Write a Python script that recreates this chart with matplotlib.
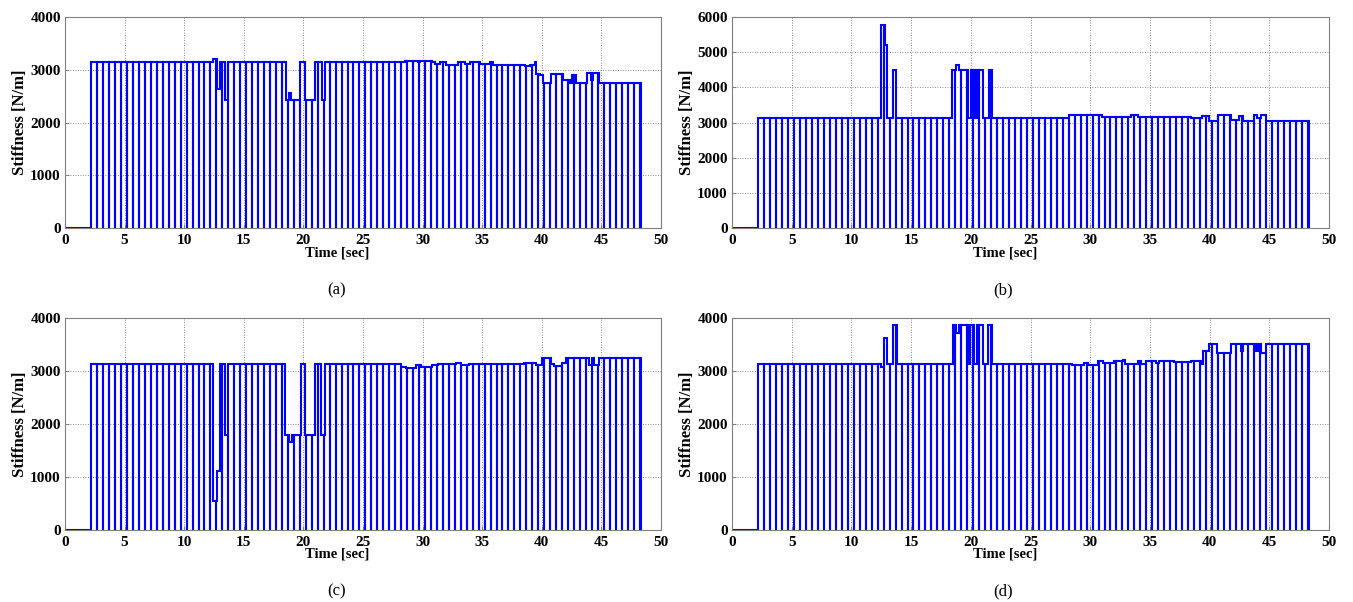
import numpy as np
import matplotlib
matplotlib.use("Agg")
import matplotlib.pyplot as plt

# ---------------- data ----------------
# Sampling instants where the stiffness signal is reset to zero (s)
pulse_start = 2.2
pulse_period = 0.5
pulse_last = 48.2
t_end = 48.3

# Stiffness level changes: (time [s], stiffness [N/m])
a_times = [2.2, 12.4, 12.75, 12.97, 13.4, 13.65, 18.5, 18.75, 19.0, 19.75, 20.1, 20.95,
           21.6, 21.82, 28.5, 29.62, 29.81, 30.82, 31.0, 31.43, 32.0, 33.0, 33.53, 33.95,
           34.23, 34.79, 35.62, 35.9, 38.56, 38.98, 39.4, 39.54, 39.82, 40.1, 40.79, 41.8, 42.33,
           42.55, 42.83, 43.81, 44.09, 44.29, 44.79]
a_vals = [3140, 3195, 2630, 3140, 2420, 3140, 2420, 2560, 2420, 3140, 2420, 3140,
          2420, 3140, 3165, 3140, 3165, 3140, 3100, 3140, 3090, 3140, 3115, 3140,
          3140, 3100, 3140, 3090, 3075, 3090, 3150, 2925, 2900, 2755, 2925, 2800, 2755,
          2905, 2755, 2930, 2800, 2930, 2755]

b_times = [2.2, 12.46, 12.82, 13.01, 13.46, 13.74, 18.39, 18.75, 19.0, 19.78, 20.0, 20.34,
           20.53, 21.03, 21.51, 21.81, 28.2, 29.67, 31.0, 33.43, 33.98, 38.44, 39.4, 39.97,
           40.67, 41.78, 42.48, 42.76, 43.73, 44.0, 44.3, 44.7]
b_vals = [3140, 5760, 5190, 3140, 4500, 3140, 4500, 4640, 4500, 3140, 4500, 3140,
          4500, 3140, 4500, 3140, 3205, 3220, 3145, 3200, 3145, 3130, 3180, 3050,
          3200, 3070, 3190, 3050, 3200, 3125, 3200, 3030]

c_times = [2.2, 12.45, 12.75, 13.0, 13.45, 13.7, 18.48, 18.82, 19.01, 19.8, 20.15, 20.97,
           21.5, 21.78, 28.18, 28.6, 29.43, 29.85, 30.83, 31.25, 32.8, 33.2, 33.9,
           36.3, 38.5, 39.5, 40.0, 40.75, 41.0, 41.7, 42.0, 43.95, 44.25, 44.4, 44.8]
c_vals = [3140, 550, 1110, 3140, 1795, 3140, 1795, 1665, 1795, 3140, 1795, 3140,
          1795, 3140, 3080, 3060, 3110, 3070, 3120, 3140, 3150, 3110, 3140,
          3130, 3150, 3110, 3250, 3140, 3090, 3160, 3250, 3110, 3250, 3120, 3250]

d_times = [2.2, 12.45, 12.73, 13.0, 13.45, 13.79, 18.47, 18.75, 19.02, 19.78, 19.97, 20.25,
           20.53, 21.03, 21.45, 21.81, 28.49, 29.52, 29.8, 30.63, 31.05, 32.03, 32.72, 32.95,
           33.98, 34.26, 34.67, 35.5, 35.79, 37.04, 38.43, 39.27, 39.46, 39.91, 40.66, 41.78,
           42.61, 42.8, 43.86, 44.09, 44.28, 44.7]
d_vals = [3140, 3070, 3630, 3140, 3860, 3140, 3860, 3715, 3860, 3140, 3860, 3140,
          3860, 3140, 3860, 3140, 3120, 3155, 3120, 3180, 3150, 3180, 3200, 3140,
          3180, 3140, 3180, 3150, 3195, 3170, 3195, 3140, 3370, 3510, 3345, 3510,
          3370, 3510, 3370, 3510, 3345, 3510]

panels = [
    ("(a)", a_times, a_vals, 4000, 1000),
    ("(b)", b_times, b_vals, 6000, 1000),
    ("(c)", c_times, c_vals, 4000, 1000),
    ("(d)", d_times, d_vals, 4000, 1000),
]
x_ticks = [0, 5, 10, 15, 20, 25, 30, 35, 40, 45, 50]
x_label = "Time [sec]"
y_label = "Stiffness [N/m]"


def build_signal(times, vals):
    drops = list(np.arange(pulse_start, pulse_last + 1e-6, pulse_period))
    events = sorted(set([round(t, 4) for t in drops] + [round(t, 4) for t in times]))
    drop_set = set(round(t, 4) for t in drops)

    def level(t):
        v = 0.0
        for tt, vv in zip(times, vals):
            if tt <= t + 1e-9:
                v = vv
        return v

    xs, ys = [0.0], [0.0]
    cur = 0.0
    for e in events:
        new = level(e)
        if e in drop_set:
            xs += [e, e, e]
            ys += [cur, 0.0, new]
        else:
            xs += [e, e]
            ys += [cur, new]
        cur = new
    xs += [t_end, t_end]
    ys += [cur, 0.0]
    return xs, ys


W, H = 1353, 602
fig = plt.figure(figsize=(W / 100, H / 100), dpi=100)

serif = ["Liberation Serif", "DejaVu Serif"]
boxes = [
    (65, 17, 661, 228),
    (732, 17, 1329, 228),
    (65, 318, 661, 530),
    (732, 318, 1329, 530),
]
cap_pos = [(337, 290), (1003, 290), (337, 591), (1003, 591)]
xlab_pos = [(337, 253), (1005, 253), (337, 554), (1005, 554)]

for (name, tt, vv, ymax, ystep), (l, t, r, b), (cx, cy), (lx, ly) in zip(panels, boxes, cap_pos, xlab_pos):
    ax = fig.add_axes([l / W, 1 - b / H, (r - l) / W, (b - t) / H])
    xs, ys = build_signal(tt, vv)
    ax.plot(xs, ys, color="#0000FF", lw=1.5, solid_joinstyle="miter")
    ax.set_xlim(0, 50)
    ax.set_ylim(0, ymax)
    ax.set_xticks(x_ticks)
    ax.set_yticks(np.arange(0, ymax + 1, ystep))
    ax.grid(True, color="#666666", linestyle=(0, (1, 2)), linewidth=0.6)
    for s in ax.spines.values():
        s.set_color("#808080")
        s.set_linewidth(0.8)
    ax.tick_params(direction="in", length=3, color="#808080")
    ax.tick_params(axis="x", pad=4)
    ax.tick_params(axis="y", pad=3)
    for lab in ax.get_xticklabels() + ax.get_yticklabels():
        lab.set_fontfamily(serif)
        lab.set_fontweight("bold")
        lab.set_fontsize(11)
    fig.text(lx / W, 1 - ly / H, x_label, ha="center", va="center",
             fontfamily=serif, fontweight="bold", fontsize=10.5)
    fig.text((l - 45) / W, 1 - ((t + b) / 2) / H, y_label, ha="center", va="center",
             rotation=90, fontfamily=serif, fontweight="bold", fontsize=12)
    fig.text(cx / W, 1 - cy / H, name, ha="center", va="center", fontfamily=serif, fontsize=12)

fig.savefig("out.png", dpi=100)
